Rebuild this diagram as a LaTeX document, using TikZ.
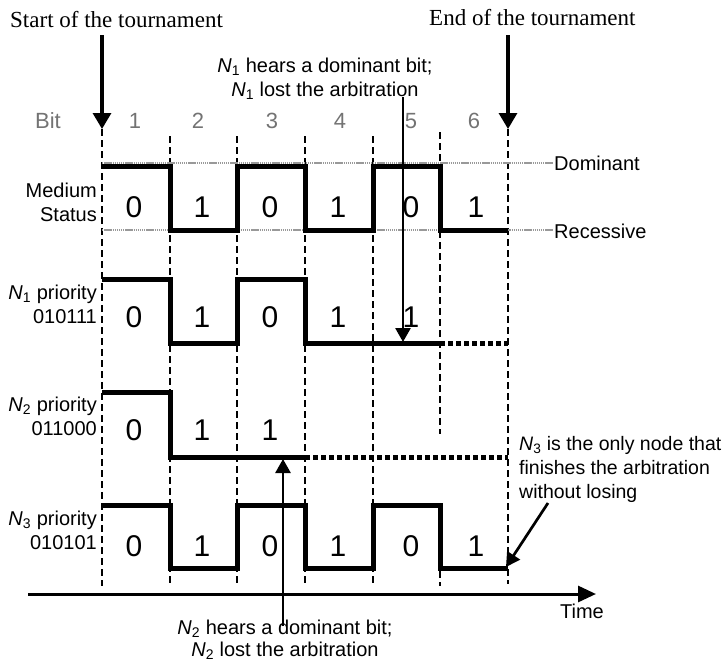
\documentclass[tikz,border=0pt]{standalone}
\usepackage{fontspec}
\setmainfont{Liberation Sans}
\newfontfamily\titlefont{Liberation Serif}
\usetikzlibrary{arrows.meta}
\begin{document}
\begin{tikzpicture}[x=1pt,y=-1pt,
  wave/.style={line width=5pt, line join=miter, line cap=butt},
  lostseg/.style={line width=5pt, dash pattern=on 5pt off 3pt},
  gridline/.style={line width=2.7pt, dash pattern=on 7pt off 4pt},
  levelline/.style={line width=1.8pt, gray!80, dash pattern=on 1.4pt off 0.7pt},
  lbl/.style={font=\fontsize{20}{24}\selectfont, inner sep=0pt},
  digit/.style={font=\fontsize{30}{32}\selectfont, inner sep=0pt},
  bitno/.style={font=\fontsize{22}{24}\selectfont, text=black!55, inner sep=0pt},
  ttl/.style={font=\titlefont\fontsize{23}{26}\selectfont, inner sep=0pt},
  bigarrow/.style={line width=3.3pt, -{Triangle[width=18pt,length=16pt]}},
  smallarrow/.style={line width=2.7pt, -{Triangle[width=15pt,length=14pt]}},
  timearrow/.style={line width=3pt, -{Triangle[width=16pt,length=18pt]}},
]
\useasboundingbox (0,0) rectangle (726,664);

% ---- titles and start / end markers
\node[ttl, anchor=west] (start) at (10,20) {Start of the tournament};
\node[ttl, anchor=west] (finish) at (429,18) {End of the tournament};
\coordinate (startTop) at (102,35);
\coordinate (startTip) at (102,129);
\coordinate (endTop) at (508,35);
\coordinate (endTip) at (508,129);
\draw[bigarrow] (startTop) -- (startTip);
\draw[bigarrow] (endTop) -- (endTip);

% ---- bit numbers
\node[bitno] (bitlbl) at (48,121) {Bit};
\node[bitno] (b1) at (135,121) {1};
\node[bitno] (b2) at (198,121) {2};
\node[bitno] (b3) at (272,121) {3};
\node[bitno] (b4) at (340,121) {4};
\node[bitno] (b5) at (411,121) {5};
\node[bitno] (b6) at (474,121) {6};

% ---- bit boundaries
\draw[gridline] (102,129) -- (102,586);
\foreach \x in {170,237,305,373} \draw[gridline] (\x,136) -- (\x,586);
\draw[gridline] (440,132) -- (440,434);
\draw[gridline] (440,505) -- (440,586);
\draw[gridline] (508,129) -- (508,584);

% ---- bus levels
\draw[levelline] (102,163) -- (553,163);
\draw[levelline] (102,230) -- (553,230);
\node[lbl, anchor=west] (dom) at (554,163) {Dominant};
\node[lbl, anchor=west] (rec) at (554,231) {Recessive};

% ---- row labels
\node[lbl, anchor=east, align=right] (medium) at (97,202) {Medium\\Status};
\node[lbl, anchor=east, align=right] (n1) at (97,304) {\textit{N}\textsubscript{1} priority\\010111};
\node[lbl, anchor=east, align=right] (n2) at (97,416) {\textit{N}\textsubscript{2} priority\\011000};
\node[lbl, anchor=east, align=right] (n3) at (97,530) {\textit{N}\textsubscript{3} priority\\010101};

% ---- medium status
\draw[wave] (102,166) -- (170,166) -- (170,230) -- (237,230) -- (237,166) -- (305,166)
  -- (305,230) -- (373,230) -- (373,166) -- (440,166) -- (440,230) -- (508,230);
\foreach \x/\d in {134/0,202/1,270/0,338/1,411/0,476/1}
  \node[digit] at (\x,207) {\d};

% ---- node N1
\draw[wave] (102,279) -- (170,279) -- (170,343) -- (237,343) -- (237,279) -- (305,279)
  -- (305,343) -- (440,343);
\draw[lostseg] (440,343) -- (508,343);
\foreach \x/\d in {134/0,202/1,270/0,338/1,411/1}
  \node[digit] at (\x,317) {\d};

% ---- node N2
\draw[wave] (102,392) -- (170,392) -- (170,457) -- (305,457);
\draw[lostseg] (305,457) -- (508,457);
\foreach \x/\d in {134/0,202/1,270/1}
  \node[digit] at (\x,430) {\d};

% ---- node N3
\draw[wave] (102,505) -- (170,505) -- (170,568) -- (237,568) -- (237,505) -- (305,505)
  -- (305,568) -- (373,568) -- (373,505) -- (440,505) -- (440,568) -- (508,568);
\foreach \x/\d in {134/0,202/1,270/0,338/1,411/0,476/1}
  \node[digit] at (\x,546) {\d};

% ---- time axis
\coordinate (t0) at (28,594);
\coordinate (t1) at (596,594);
\draw[timearrow] (t0) -- (t1);
\node[lbl] (time) at (582,611) {Time};

% ---- N1 loses at bit 5
\node[lbl, align=center] (n1note) at (325,79)
  {\textit{N}\textsubscript{1} hears a dominant bit;\\\textit{N}\textsubscript{1} lost the arbitration};
\coordinate (n1top) at (403,97);
\coordinate (n1hit) at (403,342);
\draw[smallarrow] (n1top) -- (n1hit);

% ---- N2 loses at bit 3
\node[lbl, align=center, font=\fontsize{20}{22}\selectfont] (n2note) at (285,640)
  {\textit{N}\textsubscript{2} hears a dominant bit;\\\textit{N}\textsubscript{2} lost the arbitration};
\coordinate (n2bot) at (283,626);
\coordinate (n2hit) at (283,459);
\draw[smallarrow] (n2bot) -- (n2hit);

% ---- N3 wins
\node[lbl, align=left, anchor=north west, font=\fontsize{19.5}{24}\selectfont] (n3note) at (519,436)
  {\textit{N}\textsubscript{3} is the only node that\\finishes the arbitration\\without losing};
\coordinate (n3from) at (548,503);
\coordinate (n3hit) at (506,567);
\draw[smallarrow] (n3from) -- (n3hit);
\end{tikzpicture}
\end{document}
